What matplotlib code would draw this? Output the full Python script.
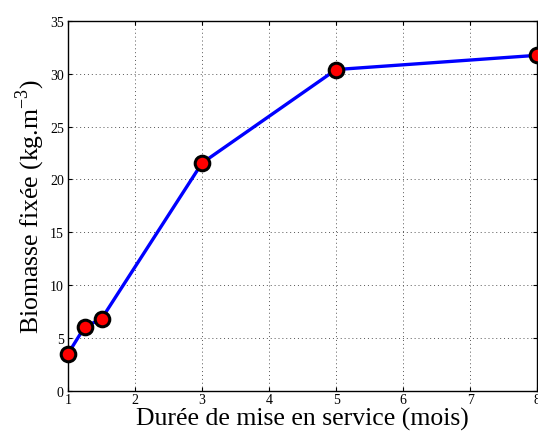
import matplotlib
matplotlib.use("Agg")
import matplotlib.pyplot as plt

# biomass fixed vs. time in service
duree = [1, 1.25, 1.5, 3, 5, 8]
biomasse = [3.5, 6.05, 6.8, 21.55, 30.4, 31.75]
xticks = [1, 2, 3, 4, 5, 6, 7, 8]
yticks = [0, 5, 10, 15, 20, 25, 30, 35]

plt.rcParams['font.family'] = ['Liberation Serif', 'DejaVu Serif']
plt.rcParams['mathtext.fontset'] = 'custom'
plt.rcParams['mathtext.rm'] = 'Liberation Serif'

fig = plt.figure(figsize=(5.38, 4.35), dpi=100)
ax = fig.add_axes([0.1264, 0.0995, 0.872, 0.85])

ax.plot(duree, biomasse, color='blue', lw=2.4, marker='o', markersize=10.5,
        markerfacecolor='red', markeredgecolor='black', markeredgewidth=2.2,
        clip_on=False, zorder=3)

ax.set_xlim(1, 8)
ax.set_ylim(0, 35)
ax.set_xticks(xticks)
ax.set_yticks(yticks)
ax.tick_params(direction='in', top=True, right=True, labelsize=10, length=3, pad=3)
ax.tick_params(axis='x', pad=2)
ax.grid(True, linestyle=(0, (1, 3)), color='#555555', lw=0.7)
for s in ax.spines.values():
    s.set_linewidth(1.0)

ax.set_xlabel('Durée de mise en service (mois)', fontsize=18.5, labelpad=0)
ax.set_ylabel(r'Biomasse fixée (kg.m$^{\mathrm{-3}}$)', fontsize=18.5, labelpad=2)

fig.savefig('out.png', dpi=100)
